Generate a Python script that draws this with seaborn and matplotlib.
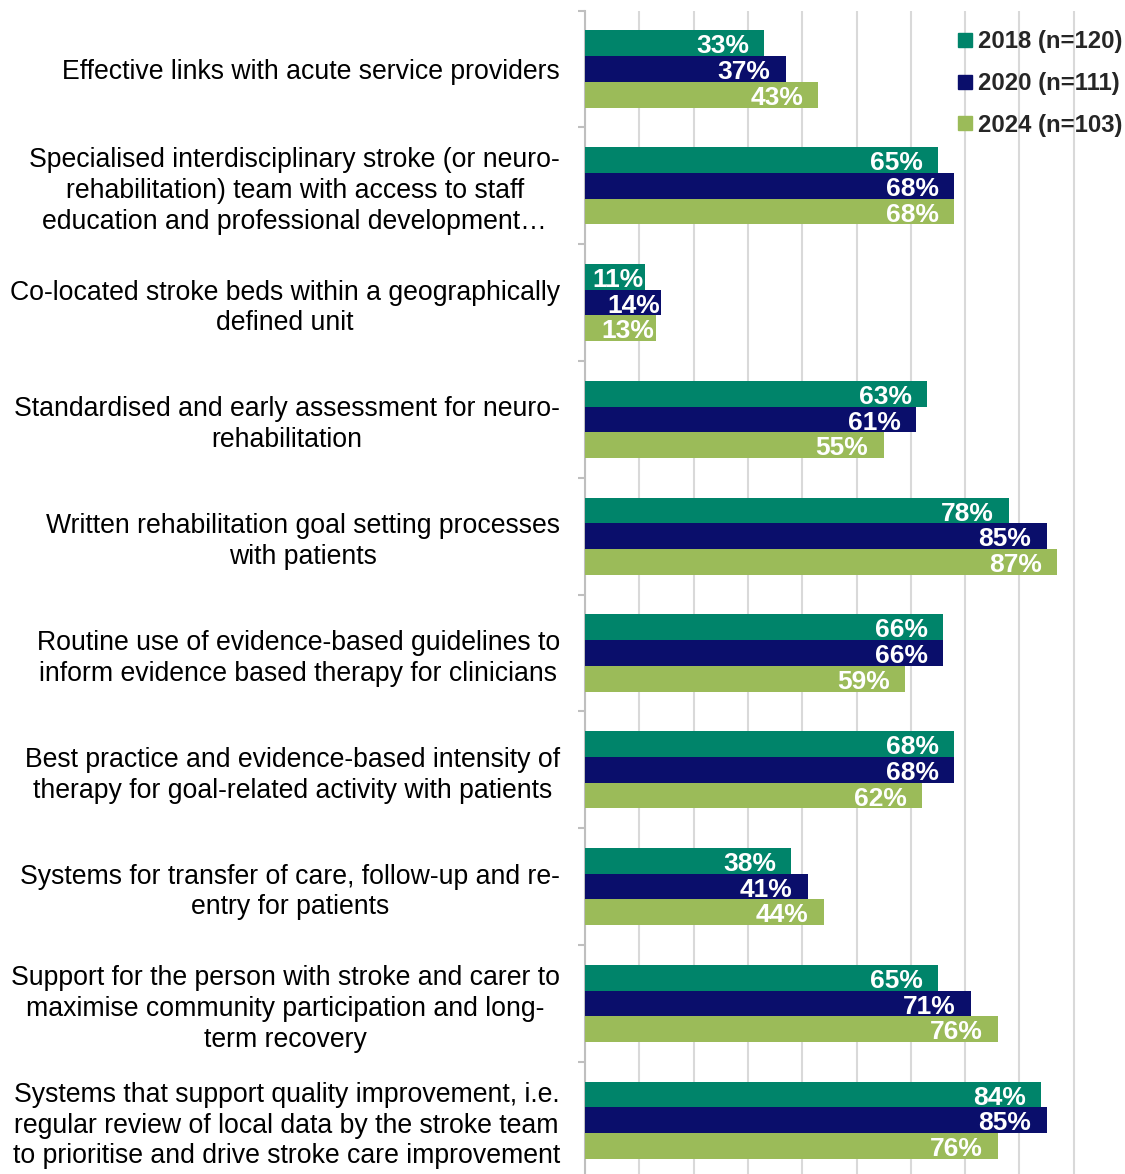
import matplotlib
matplotlib.use("Agg")
import matplotlib.pyplot as plt
from matplotlib.lines import Line2D
import seaborn as sns
import pandas as pd

categories = [
    "Effective links with acute service providers",
    "Specialised interdisciplinary stroke (or neuro-\nrehabilitation) team with access to staff\neducation and professional development\u2026",
    "Co-located stroke beds within a geographically\ndefined unit",
    "Standardised and early assessment for neuro-\nrehabilitation",
    "Written rehabilitation goal setting processes\nwith patients",
    "Routine use of evidence-based guidelines to\ninform evidence based therapy for clinicians",
    "Best practice and evidence-based intensity of\ntherapy for goal-related activity with patients",
    "Systems for transfer of care, follow-up and re-\nentry for patients",
    "Support for the person with stroke and carer to\nmaximise community participation and long-\nterm recovery",
    "Systems that support quality improvement, i.e.\nregular review of local data by the stroke team\nto prioritise and drive stroke care improvement",
]
series = ["2018 (n=120)", "2020 (n=111)", "2024 (n=103)"]
values_2018 = [33, 65, 11, 63, 78, 66, 68, 38, 65, 84]
values_2020 = [37, 68, 14, 61, 85, 66, 68, 41, 71, 85]
values_2024 = [43, 68, 13, 55, 87, 59, 62, 44, 76, 76]
colors = ["#00846A", "#0A0E6B", "#9BBB59"]

rows = []
for s, vals in zip(series, [values_2018, values_2020, values_2024]):
    for c, v in zip(categories, vals):
        rows.append({"category": c, "series": s, "value": v})
df = pd.DataFrame(rows)

sns.set_theme(style="white")
plt.rcParams["font.family"] = ["Liberation Sans", "DejaVu Sans"]

W, H = 1125, 1174
fig = plt.figure(figsize=(W / 100, H / 100), dpi=100)
ax = fig.add_axes([585 / W, -4.6 / H, (W - 585) / W, (H - 10.6 + 4.6) / H])

sns.barplot(data=df, y="category", x="value", hue="series", order=categories,
            hue_order=series, palette=colors, orient="h", width=0.66,
            saturation=1, errorbar=None, ax=ax, legend=False, zorder=3,
            linewidth=0)

ax.set_xlim(0, (W - 585) / 5.43)
ax.set_ylim(len(categories) - 0.5, -0.5)
ax.set_xticks(range(0, 100, 10))
ax.set_xticklabels([])
ax.tick_params(axis="x", length=0)
ax.grid(axis="x", color="#D9D9D9", linewidth=1.5, zorder=0)
ax.set_axisbelow(True)
ax.set_xlabel("")
ax.set_ylabel("")

for sp in ["top", "right", "bottom"]:
    ax.spines[sp].set_visible(False)
ax.spines["left"].set_color("#BFBFBF")
ax.spines["left"].set_linewidth(1.5)

ax.tick_params(axis="y", which="major", length=0, pad=18, labelsize=19.2, labelcolor="black")
ax.set_yticks([i - 0.5 for i in range(len(categories) + 1)], minor=True)
ax.tick_params(axis="y", which="minor", length=5, width=1.5, color="#BFBFBF", left=True)
for lbl in ax.get_yticklabels():
    lbl.set_multialignment("center")
    lbl.set_linespacing(1.24)

for cont in ax.containers:
    for patch in cont:
        w = patch.get_width()
        y = patch.get_y() + patch.get_height() / 2
        pad = -11 if w >= 20 else -1
        ax.annotate(f"{w:.0f}%", xy=(w, y), xytext=(pad, -0.5), textcoords="offset points",
                    ha="right", va="center_baseline", color="white", fontsize=19,
                    fontweight="bold", zorder=5)

handles = [Line2D([], [], marker="s", linestyle="none", markersize=10,
                  markerfacecolor=c, markeredgecolor=c) for c in colors]
fig.legend(handles, series, loc="upper right", bbox_to_anchor=(1.0, 1.0 - 28 / H),
           frameon=False, prop={"weight": "bold", "size": 17.2},
           handlelength=0.6, handletextpad=0.25, labelspacing=0.78,
           borderaxespad=0, borderpad=0.1)

fig.savefig("out.png", dpi=100)
